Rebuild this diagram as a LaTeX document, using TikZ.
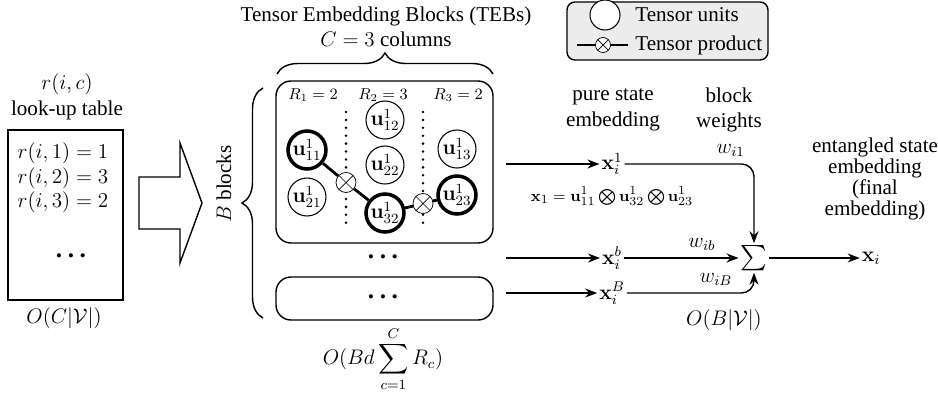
\documentclass[tikz,border=0pt,12pt]{standalone}
\usepackage[no-math]{fontspec}
\setmainfont{Liberation Serif}
\usepackage{amsmath}
\usepackage{tikz}
\usetikzlibrary{arrows.meta, positioning, calc, decorations.pathreplacing}

\begin{document}
\begin{tikzpicture}[
  unit/.style={circle, draw, semithick, fill=white, minimum size=0.76cm, inner sep=0pt},
  unitsel/.style={unit, line width=2pt},
  prod/.style={circle, draw, fill=white, minimum size=0.40cm, inner sep=0pt,
    path picture={\draw (path picture bounding box.north west) -- (path picture bounding box.south east)
      (path picture bounding box.north east) -- (path picture bounding box.south west);}},
  link/.style={line width=1.6pt},
  block/.style={draw, thick, rounded corners=0.3cm, minimum width=4.34cm},
  sep/.style={line width=1.6pt, line cap=round, dash pattern=on 0pt off 4.5pt},
  arr/.style={-{Stealth[length=2.4mm]}, thick},
  note/.style={align=center, font=\fontsize{12}{12}\selectfont},
  rank/.style={font=\fontsize{9}{10}\selectfont},
  etc/.style={font=\large\bfseries},
  curly/.style={decorate, decoration={brace, amplitude=0.42cm}, thick}
]
\useasboundingbox (0,0) rectangle (18.76,-7.88);

% look-up table
\node[align=center] (luttitle) at (1.34,-1.94) {$r(i,c)$\\look-up table};
\node[draw, thick, minimum width=2.30cm, minimum height=3.40cm] (lut) at (1.31,-4.30) {};
\node (r1) at (1.26,-3.06) {$r(i,1)=1$};
\node (r2) at (1.26,-3.56) {$r(i,2)=3$};
\node (r3) at (1.26,-4.04) {$r(i,3)=2$};
\node[etc] (lutdots) at (1.42,-5.12) {.\hspace{0.22em}.\hspace{0.22em}.};
\node (lutcost) at (1.28,-6.36) {$O(C|\mathcal{V}|)$};

\draw[thick] (2.78,-3.54) -- (3.60,-3.54) -- (3.60,-2.86) -- (4.04,-4.06) -- (3.60,-5.26) -- (3.60,-4.58) -- (2.78,-4.58) -- cycle;

% tensor embedding blocks
\node[align=center] (tebtitle) at (7.72,-0.54) {Tensor Embedding Blocks (TEBs)\\$C=3$ columns};
\draw[curly] (5.54,-1.48) -- (9.86,-1.48);
\node[rotate=90] (bblocks) at (4.48,-3.68) {$B$ blocks};
\draw[curly] (5.26,-6.36) -- (5.26,-1.76);

\node[block, minimum height=3.24cm] (blk1) at (7.69,-3.24) {};
\node[etc] (blkdots) at (7.66,-5.14) {.\hspace{0.22em}.\hspace{0.22em}.};
\node[block, minimum height=0.86cm] (blkB) at (7.69,-5.97) {};
\node[etc] (blkBdots) at (7.66,-5.94) {.\hspace{0.22em}.\hspace{0.22em}.};
\node (tebcost) at (7.66,-7.18) {$\displaystyle O(Bd\sum_{c=1}^{C}R_c)$};

\node[rank] (rc1) at (6.26,-1.90) {$R_1=2$};
\node[rank] (rc2) at (7.66,-1.90) {$R_2=3$};
\node[rank] (rc3) at (9.16,-1.90) {$R_3=2$};
\draw[sep] (6.92,-2.24) -- (6.92,-4.50);
\draw[sep] (8.46,-2.24) -- (8.46,-4.50);

\node[unitsel] (u11) at (6.14,-3.00) {$\mathbf{u}_{11}^1$};
\node[unit] (u21) at (6.14,-3.94) {$\mathbf{u}_{21}^1$};
\node[unit] (u12) at (7.70,-2.40) {$\mathbf{u}_{12}^1$};
\node[unit] (u22) at (7.70,-3.30) {$\mathbf{u}_{22}^1$};
\node[unitsel] (u32) at (7.70,-4.26) {$\mathbf{u}_{32}^1$};
\node[unit] (u13) at (9.14,-2.98) {$\mathbf{u}_{13}^1$};
\node[unitsel] (u23) at (9.14,-3.90) {$\mathbf{u}_{23}^1$};
\node[prod] (ot1) at (6.92,-3.65) {};
\node[prod] (ot2) at (8.46,-4.07) {};
\draw[link] (u11) -- (ot1) -- (u32) -- (ot2) -- (u23);

% legend
\node[draw, thick, fill=gray!15, rounded corners=0.16cm, minimum width=4.02cm, minimum height=1.16cm] (legend) at (13.35,-0.62) {};
\node[unit, minimum size=0.60cm] (lgunit) at (12.10,-0.30) {};
\node[anchor=west] (lgunittxt) at (12.56,-0.30) {Tensor units};
\coordinate (lga) at (11.54,-0.90);
\coordinate (lgb) at (12.56,-0.90);
\draw[link] (lga) -- (lgb);
\node[prod, minimum size=0.30cm] (lgprod) at (12.06,-0.90) {};
\node[anchor=west] (lgprodtxt) at (12.56,-0.90) {Tensor product};

% pure states and weighted sum
\node[align=center] (purelbl) at (12.26,-2.20) {pure state\\embedding};
\node[align=center] (wlbl) at (14.58,-2.20) {block\\weights};
\node[note] (entangled) at (17.50,-3.58) {entangled state\\embedding\\(final\\embedding)};

\coordinate (s1) at (10.12,-3.28);
\coordinate (sb) at (10.12,-5.16);
\coordinate (sB) at (10.12,-5.86);
\node[inner sep=1pt] (x1) at (12.24,-3.28) {$\mathbf{x}_i^1$};
\node[inner sep=1pt] (xb) at (12.24,-5.16) {$\mathbf{x}_i^b$};
\node[inner sep=1pt] (xB) at (12.24,-5.86) {$\mathbf{x}_i^B$};
\node[font=\fontsize{9.5}{11}\selectfont] (x1def) at (12.24,-3.92) {$\mathbf{x}_1=\mathbf{u}_{11}^1\bigotimes\mathbf{u}_{32}^1\bigotimes\mathbf{u}_{23}^1$};
\node[inner sep=1pt, font=\fontsize{14}{16}\selectfont] (sum) at (15.08,-5.16) {$\sum$};
\node[inner sep=1pt] (xi) at (17.42,-5.16) {$\mathbf{x}_i$};
\node (sumcost) at (14.48,-6.40) {$O(B|\mathcal{V}|)$};

\draw[arr] (s1) -- (x1);
\draw[arr] (sb) -- (xb);
\draw[arr] (sB) -- (xB);
\draw[arr, rounded corners=0.25cm] (x1) -| node[pos=0.41, above] {$w_{i1}$} (sum.north);
\draw[arr] (xb) -- node[pos=0.68, above] {$w_{ib}$} (sum);
\draw[arr, rounded corners=0.25cm] (xB) -| node[pos=0.35, above] {$w_{iB}$} (sum.south);
\draw[arr] (sum) -- (xi);
\end{tikzpicture}
\end{document}
